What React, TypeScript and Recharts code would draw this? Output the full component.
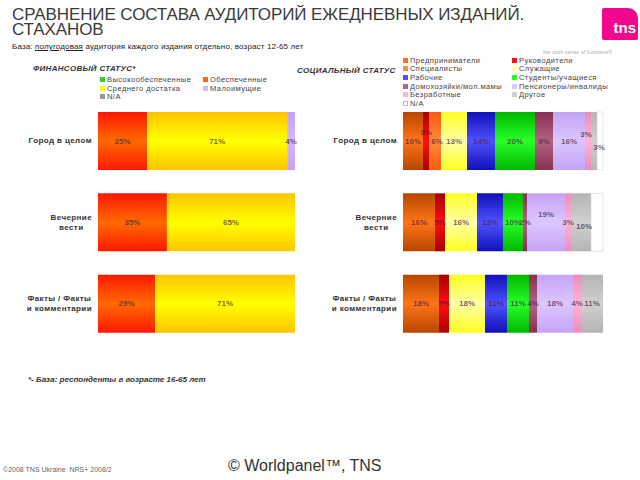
import { Bar, BarChart, LabelList, XAxis, YAxis } from "recharts";

const FONT = '"Liberation Sans", Arial, sans-serif';

// categories (line breaks = how the tick label wraps)
const categories = ["Город в целом", "Вечерние\nвести", "Факты / Факты\nи комментарии"];

// financial status, %
const financeNames = ["Высокообеспеченные", "Обеспеченные", "Среднего достатка", "Малоимущие", "N/A"];
const highIncome = [0, 0, 0];
const wellOff = [25, 35, 29];
const middleIncome = [71, 65, 71];
const lowIncome = [4, 0, 0];
const financeNA = [0, 0, 0];

// social status, %
const socialNames = [
  "Предприниматели",
  "Руководители",
  "Специалисты",
  "Служащие",
  "Рабочие",
  "Студенты/учащиеся",
  "Домохозяйки/мол.мамы",
  "Пенсионеры/инвалиды",
  "Безработные",
  "Другое",
  "N/A",
];
const entrepreneurs = [10, 16, 18];
const managers = [3, 5, 5];
const specialists = [6, 0, 0];
const employees = [13, 16, 18];
const workers = [14, 13, 11];
const students = [20, 10, 11];
const housewives = [9, 2, 4];
const pensioners = [16, 19, 18];
const unemployed = [3, 3, 4];
const other = [3, 10, 11];
const socialNA = [3, 6, 0];

type Series = { key: string; name: string; values: number[]; edge: string; mid: string; noLabel?: boolean };

const financeSeries: Series[] = [
  { key: "f0", name: financeNames[0], values: highIncome, edge: "#22b022", mid: "#33cc33" },
  { key: "f1", name: financeNames[1], values: wellOff, edge: "#ff1800", mid: "#ff6a00" },
  { key: "f2", name: financeNames[2], values: middleIncome, edge: "#ffc400", mid: "#ffff00" },
  { key: "f3", name: financeNames[3], values: lowIncome, edge: "#c4a2f0", mid: "#d4b8f8" },
  { key: "f4", name: financeNames[4], values: financeNA, edge: "#888888", mid: "#999999" },
];

const socialSeries: Series[] = [
  { key: "s0", name: socialNames[0], values: entrepreneurs, edge: "#b84600", mid: "#ff7418" },
  { key: "s1", name: socialNames[1], values: managers, edge: "#a80000", mid: "#ff1010" },
  { key: "s2", name: socialNames[2], values: specialists, edge: "#ff5a10", mid: "#ff8a38" },
  { key: "s3", name: socialNames[3], values: employees, edge: "#ffff20", mid: "#ffffa8" },
  { key: "s4", name: socialNames[4], values: workers, edge: "#1010b8", mid: "#5050ff" },
  { key: "s5", name: socialNames[5], values: students, edge: "#00b800", mid: "#28ff28" },
  { key: "s6", name: socialNames[6], values: housewives, edge: "#883050", mid: "#b06484" },
  { key: "s7", name: socialNames[7], values: pensioners, edge: "#c4a4f6", mid: "#dcc6ff" },
  { key: "s8", name: socialNames[8], values: unemployed, edge: "#ee8cb8", mid: "#ffb4d4" },
  { key: "s9", name: socialNames[9], values: other, edge: "#b4b4b4", mid: "#d0d0d0" },
  { key: "s10", name: socialNames[10], values: socialNA, edge: "#ffffff", mid: "#ffffff", noLabel: true },
];

// nudges for crowded value labels, "seriesKey-row": [dx, dy]
const labelShift: Record<string, [number, number]> = {
  "s1-0": [0, -9],
  "s2-0": [2, 0],
  "s8-0": [-2, -7],
  "s9-0": [5, 6],
  "s7-1": [0, -8],
  "s9-1": [3, 4],
};

function buildRows(series: Series[]) {
  return categories.map((c, i) => {
    const row: Record<string, string | number> = { category: c };
    series.forEach((s) => (row[s.key] = s.values[i]));
    return row;
  });
}

let measureCtx: CanvasRenderingContext2D | null = null;
function textWidth(t: string, font: string, spacing: number) {
  if (!measureCtx) measureCtx = document.createElement("canvas").getContext("2d");
  if (!measureCtx) return t.length * 5;
  measureCtx.font = font;
  return measureCtx.measureText(t).width + t.length * spacing;
}

function CategoryTick(props: any) {
  const { x, y, payload } = props;
  const lines = String(payload.value).split("\n");
  const widths = lines.map((l) => textWidth(l, `bold 8px ${FONT}`, 0.4));
  const maxW = Math.max(...widths);
  const cx = x - maxW / 2;
  const lh = 10;
  const y0 = y - ((lines.length - 1) * lh) / 2;
  return (
    <text textAnchor="middle" fontSize={8} fontWeight="bold" fontFamily={FONT} letterSpacing={0.4} fill="#333">
      {lines.map((l, i) => (
        <tspan key={i} x={cx} y={y0 + i * lh} dy="0.35em">
          {l}
        </tspan>
      ))}
    </text>
  );
}

function makeLabel(seriesKey: string) {
  return function SegmentLabel(props: any) {
    const { x, y, width, height, value, index } = props;
    if (!value || value <= 0) return null;
    const [dx, dy] = labelShift[`${seriesKey}-${index}`] ?? [0, 0];
    return (
      <text
        x={x + width / 2 + dx}
        y={y + height / 2 + dy}
        dy="0.35em"
        textAnchor="middle"
        fontSize={8}
        fontWeight="bold"
        fontFamily={FONT}
        fill="rgba(70,30,60,0.72)"
      >
        {`${value}%`}
      </text>
    );
  };
}

function StackPanel({
  series,
  left,
  width,
  axisWidth,
  rightMargin,
  idPrefix,
}: {
  series: Series[];
  left: number;
  width: number;
  axisWidth: number;
  rightMargin: number;
  idPrefix: string;
}) {
  const data = buildRows(series);
  return (
    <div style={{ position: "absolute", left, top: 100 }}>
      <BarChart
        width={width}
        height={244}
        data={data}
        layout="vertical"
        margin={{ top: 0, right: rightMargin, bottom: 0, left: 0 }}
        barSize={58}
      >
        <defs>
          {series.map((s) => (
            <linearGradient key={s.key} id={`${idPrefix}${s.key}`} x1="0" y1="0" x2="0" y2="1">
              <stop offset="0%" stopColor={s.edge} />
              <stop offset="50%" stopColor={s.mid} />
              <stop offset="100%" stopColor={s.edge} />
            </linearGradient>
          ))}
        </defs>
        <XAxis type="number" hide domain={[0, 100]} />
        <YAxis
          type="category"
          dataKey="category"
          width={axisWidth}
          axisLine={false}
          tickLine={false}
          tickSize={0}
          tickMargin={6}
          tick={<CategoryTick />}
          interval={0}
        />
        {series.map((s) => (
          <Bar
            key={s.key}
            dataKey={s.key}
            stackId="a"
            fill={`url(#${idPrefix}${s.key})`}
            stroke={s.noLabel ? "#d4d4d4" : "none"}
            strokeWidth={0.6}
            isAnimationActive={false}
          >
            {!s.noLabel && <LabelList dataKey={s.key} content={makeLabel(s.key)} />}
          </Bar>
        ))}
      </BarChart>
    </div>
  );
}

function LegendGrid({
  series,
  left,
  top,
  colWidth,
  rowHeight,
}: {
  series: Series[];
  left: number;
  top: number;
  colWidth: number;
  rowHeight: number;
}) {
  return (
    <div style={{ position: "absolute", left, top }}>
      {series.map((s, i) => (
        <div
          key={s.key}
          style={{
            position: "absolute",
            left: (i % 2) * colWidth,
            top: Math.floor(i / 2) * rowHeight,
            display: "flex",
            alignItems: "center",
            whiteSpace: "nowrap",
            fontFamily: FONT,
            fontSize: 7.5,
            letterSpacing: 0.45,
            color: "#444",
            lineHeight: "9px",
          }}
        >
          <span
            style={{
              display: "inline-block",
              width: 5,
              height: 5,
              marginRight: 2,
              background: s.mid,
              border: s.mid === "#ffffff" ? "1px solid #bbb" : "none",
              boxSizing: "border-box",
            }}
          />
          {s.name}
        </div>
      ))}
    </div>
  );
}

export default function App() {
  const abs = (l: number, t: number): React.CSSProperties => ({ position: "absolute", left: l, top: t });
  const heading: React.CSSProperties = {
    fontSize: 8,
    fontWeight: "bold",
    fontStyle: "italic",
    color: "#333",
    letterSpacing: 0.3,
    whiteSpace: "nowrap",
  };
  return (
    <div
      style={{
        position: "absolute",
        left: 0,
        top: 0,
        width: 640,
        height: 480,
        overflow: "hidden",
        background: "#fff",
        fontFamily: FONT,
      }}
    >
      <div style={{ ...abs(12, 7), fontSize: 17, lineHeight: "15px", color: "#3a3a3a", letterSpacing: -0.1 }}>
        СРАВНЕНИЕ СОСТАВА АУДИТОРИЙ ЕЖЕДНЕВНЫХ ИЗДАНИЙ.
        <br />
        СТАХАНОВ
      </div>
      <div style={{ ...abs(12, 42), fontSize: 8, color: "#222", whiteSpace: "nowrap", letterSpacing: 0.15 }}>
        База: <span style={{ textDecoration: "underline" }}>полугодовая</span> аудитория каждого издания отдельно,
        возраст 12-65 лет
      </div>

      <div
        style={{
          ...abs(602, 8),
          width: 36,
          height: 32,
          background: "#f2088c",
          borderRadius: "2px 10px 2px 2px",
          color: "#fff",
          fontWeight: "bold",
          fontSize: 15,
          lineHeight: "40px",
          textAlign: "right",
          paddingRight: 2,
          boxSizing: "border-box",
        }}
      >
        tns
      </div>
      <div style={{ ...abs(543, 49), fontSize: 5, color: "#aaa", whiteSpace: "nowrap", letterSpacing: 0.2 }}>
        the sixth sense of business®
      </div>

      <div style={{ ...abs(33, 64), ...heading }}>ФИНАНСОВЫЙ СТАТУС*</div>
      <LegendGrid series={financeSeries} left={100} top={75} colWidth={103} rowHeight={8.5} />

      <div style={{ ...abs(297, 66), ...heading }}>СОЦИАЛЬНЫЙ СТАТУС</div>
      <LegendGrid series={socialSeries} left={403} top={55.5} colWidth={109} rowHeight={8.7} />

      <StackPanel series={financeSeries} left={0} width={300} axisWidth={98} rightMargin={5} idPrefix="fin" />
      <StackPanel series={socialSeries} left={305} width={305} axisWidth={98} rightMargin={7} idPrefix="soc" />

      <div style={{ ...abs(28, 375), ...heading, letterSpacing: 0 }}>*- База: респонденты в возрасте 16-65 лет</div>
      <div style={{ ...abs(3, 466), fontSize: 7, color: "#666", whiteSpace: "nowrap" }}>
        ©2008 TNS Ukraine&nbsp; NRS+ 2008/2
      </div>
      <div style={{ ...abs(228, 457), fontSize: 16, color: "#333", whiteSpace: "nowrap" }}>© Worldpanel™, TNS</div>
    </div>
  );
}
